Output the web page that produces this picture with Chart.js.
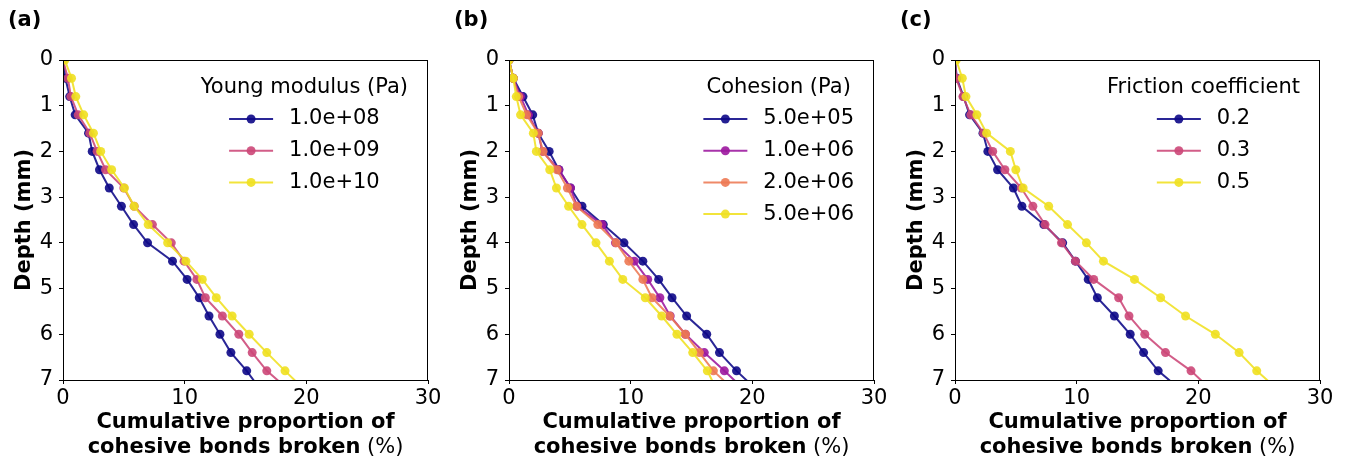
<!DOCTYPE html>
<html>
<head>
<meta charset="utf-8">
<script src="https://cdn.jsdelivr.net/npm/chart.js@4.4.1/dist/chart.umd.min.js"></script>
<style>
  body { margin: 0; background: #fff; }
  #wrap { position: relative; width: 1349px; height: 463px; }
  .panel { position: absolute; top: 0; width: 449px; height: 463px; }
</style>
</head>
<body>
<div id="wrap">
  <div class="panel" style="left:0px"><canvas id="chartA" width="449" height="463"></canvas></div>
  <div class="panel" style="left:446px"><canvas id="chartB" width="449" height="463"></canvas></div>
  <div class="panel" style="left:892px"><canvas id="chartC" width="449" height="463"></canvas></div>
</div>
<script>
//****DATA****//

var depths = [0, 0.4, 0.8, 1.2, 1.6, 2.0, 2.4, 2.8, 3.2, 3.6, 4.0, 4.4, 4.8, 5.2, 5.6, 6.0, 6.4, 6.8, 7.2];
var xTicks = [0, 10, 20, 30];
var yTicks = [0, 1, 2, 3, 4, 5, 6, 7];

// (a) young modulus
var youngLabels = ['1.0e+08', '1.0e+09', '1.0e+10'];
var young1e8 = [0, 0.2, 0.55, 1.0, 2.1, 2.4, 3.0, 3.8, 4.8, 5.8, 6.95, 9.0, 10.2, 11.2, 12.0, 12.9, 13.8, 15.1, 16.2];
var young1e9 = [0, 0.4, 0.65, 1.25, 2.2, 2.8, 3.5, 5.0, 5.85, 7.35, 8.9, 9.95, 11.0, 11.7, 13.1, 14.45, 15.55, 16.75, 18.5];
var young1e10 = [0.15, 0.7, 1.05, 1.7, 2.5, 3.1, 4.0, 5.05, 5.85, 7.0, 8.6, 10.1, 11.45, 12.6, 13.9, 15.3, 16.75, 18.25, 19.8];

// (b) cohesion
var cohesionLabels = ['5.0e+05', '1.0e+06', '2.0e+06', '5.0e+06'];
var coh5e5 = [0, 0.35, 1.15, 1.95, 2.4, 3.3, 4.1, 5.05, 6.0, 7.75, 9.45, 11.0, 12.3, 13.4, 14.6, 16.25, 17.3, 18.7, 20.3];
var coh1e6 = [0, 0.35, 0.95, 1.6, 2.4, 2.75, 4.1, 5.05, 5.6, 7.65, 8.75, 10.3, 11.4, 12.4, 13.25, 14.5, 16.05, 17.7, 19.3];
var coh2e6 = [0, 0.35, 0.8, 1.45, 2.4, 2.8, 3.95, 4.8, 5.55, 7.3, 8.8, 9.85, 11.0, 11.75, 13.2, 14.5, 15.65, 16.8, 18.4];
var coh5e6 = [0, 0.35, 0.6, 0.95, 2.0, 2.25, 3.35, 3.9, 4.9, 6.0, 7.15, 8.25, 9.35, 11.2, 12.55, 13.8, 15.1, 16.3, 17.05];

// (c) friction
var frictionLabels = ['0.2', '0.3', '0.5'];
var fric02 = [0, 0.15, 0.7, 1.2, 2.3, 2.7, 3.5, 4.8, 5.5, 7.3, 8.85, 9.9, 10.95, 11.7, 13.1, 14.4, 15.5, 16.7, 18.5];
var fric03 = [0, 0.1, 0.65, 1.3, 2.35, 3.1, 4.1, 5.45, 6.4, 7.4, 8.75, 9.9, 11.4, 13.45, 14.3, 15.6, 17.3, 19.4, 21.0];
var fric05 = [0.1, 0.6, 0.9, 1.8, 2.6, 4.55, 5.0, 5.6, 7.7, 9.25, 10.8, 12.2, 14.75, 16.9, 18.95, 21.4, 23.35, 24.8, 26.5];

var plasma3 = ['#0d0887', '#cc4778', '#f0e020'];
var plasma4 = ['#0d0887', '#9c179e', '#ed7953', '#f0e020'];

//****HELPERS****//

var FONT = "'DejaVu Sans', sans-serif";
var FSIZE = 21;

function withAlpha(hex, a) {
  var r = parseInt(hex.substr(1, 2), 16);
  var g = parseInt(hex.substr(3, 2), 16);
  var b = parseInt(hex.substr(5, 2), 16);
  return 'rgba(' + r + ',' + g + ',' + b + ',' + a + ')';
}

function toPoints(xs) {
  var pts = [];
  for (var i = 0; i < xs.length; i++) {
    pts.push({ x: xs[i], y: depths[i] });
  }
  return pts;
}

//****PLUGIN: frame, legend, labels****//

var panelDecor = {
  id: 'panelDecor',
  afterDatasetsDraw: function (chart, args, opts) {
    var ctx = chart.ctx;
    var area = chart.chartArea;
    var sets = chart.data.datasets;
    ctx.save();

    // axes box
    ctx.strokeStyle = '#000';
    ctx.lineWidth = 1;
    ctx.strokeRect(area.left + 0.5, area.top + 0.5, area.right - area.left - 1, area.bottom - area.top);

    // legend
    ctx.font = FSIZE + 'px ' + FONT;
    var textW = 0;
    for (var i = 0; i < sets.length; i++) {
      textW = Math.max(textW, ctx.measureText(sets[i].label).width);
    }
    var entryW = 44 + 16 + textW;
    var titleW = ctx.measureText(opts.title).width;
    var boxW = Math.max(entryW, titleW);
    var cx = area.right - 20 - boxW / 2;
    ctx.fillStyle = '#000';
    ctx.textAlign = 'center';
    ctx.textBaseline = 'middle';
    ctx.fillText(opts.title, cx, area.top + 27.5);
    var x0 = cx - entryW / 2;
    ctx.textAlign = 'left';
    for (var j = 0; j < sets.length; j++) {
      var y = area.top + 59 + j * 31.7;
      ctx.strokeStyle = sets[j].borderColor;
      ctx.lineWidth = 2;
      ctx.beginPath();
      ctx.moveTo(x0, y);
      ctx.lineTo(x0 + 44, y);
      ctx.stroke();
      ctx.fillStyle = sets[j].backgroundColor;
      ctx.beginPath();
      ctx.arc(x0 + 22, y, 4.5, 0, Math.PI * 2);
      ctx.fill();
      ctx.fillStyle = '#000';
      ctx.fillText(sets[j].label, x0 + 60, y);
    }

    // panel letter
    ctx.font = 'bold ' + FSIZE + 'px ' + FONT;
    ctx.textAlign = 'left';
    ctx.fillText(opts.letter, area.left - 55, 21);

    // x axis title, two lines, last part not bold
    var mid = (area.left + area.right) / 2;
    ctx.textAlign = 'center';
    ctx.fillText('Cumulative proportion of', mid, 423);
    var boldPart = 'cohesive bonds broken';
    var normPart = ' (%)';
    var bw = ctx.measureText(boldPart).width;
    ctx.font = FSIZE + 'px ' + FONT;
    var nw = ctx.measureText(normPart).width;
    var start = mid - (bw + nw) / 2;
    ctx.textAlign = 'left';
    ctx.font = 'bold ' + FSIZE + 'px ' + FONT;
    ctx.fillText(boldPart, start, 448);
    ctx.font = FSIZE + 'px ' + FONT;
    ctx.fillText(normPart, start + bw, 448);

    ctx.restore();
  }
};

//****CHARTS****//

function makePanel(canvasId, letter, legendTitle, labels, series, colors) {
  var datasets = [];
  for (var i = 0; i < series.length; i++) {
    datasets.push({
      label: labels[i],
      data: toPoints(series[i]),
      borderColor: withAlpha(colors[i], 0.88),
      backgroundColor: withAlpha(colors[i], 0.9),
      borderWidth: 2,
      pointRadius: 4.5,
      pointBorderWidth: 0,
      pointHoverRadius: 4.5,
      tension: 0,
      order: series.length - i
    });
  }

  var tickFont = { family: FONT, size: FSIZE };

  return new Chart(document.getElementById(canvasId), {
    type: 'line',
    data: { datasets: datasets },
    options: {
      responsive: false,
      animation: false,
      devicePixelRatio: 1,
      layout: { padding: { left: 0, right: 21, top: 60, bottom: 0 } },
      plugins: {
        legend: { display: false },
        tooltip: { enabled: false },
        panelDecor: { title: legendTitle, letter: letter }
      },
      scales: {
        x: {
          type: 'linear',
          min: 0,
          max: 30,
          afterBuildTicks: function (scale) {
            scale.ticks = xTicks.map(function (v) { return { value: v }; });
          },
          afterFit: function (scale) { scale.height = 83; },
          border: { display: false },
          grid: { drawOnChartArea: false, drawTicks: true, tickLength: 4, color: '#000' },
          ticks: { color: '#000', font: tickFont, padding: 2, maxRotation: 0 }
        },
        y: {
          type: 'linear',
          reverse: true,
          min: 0,
          max: 7,
          afterBuildTicks: function (scale) {
            scale.ticks = yTicks.map(function (v) { return { value: v }; });
          },
          afterFit: function (scale) { scale.width = 63; },
          border: { display: false },
          grid: { drawOnChartArea: false, drawTicks: true, tickLength: 4, color: '#000' },
          ticks: { color: '#000', font: tickFont, padding: 6 },
          title: {
            display: true,
            text: 'Depth (mm)',
            color: '#000',
            font: { family: FONT, size: FSIZE, weight: 'bold' },
            padding: { top: 12, bottom: 0 }
          }
        }
      }
    },
    plugins: [panelDecor]
  });
}

makePanel('chartA', '(a)', 'Young modulus (Pa)', youngLabels, [young1e8, young1e9, young1e10], plasma3);
makePanel('chartB', '(b)', 'Cohesion (Pa)', cohesionLabels, [coh5e5, coh1e6, coh2e6, coh5e6], plasma4);
makePanel('chartC', '(c)', 'Friction coefficient', frictionLabels, [fric02, fric03, fric05], plasma3);
</script>
</body>
</html>
